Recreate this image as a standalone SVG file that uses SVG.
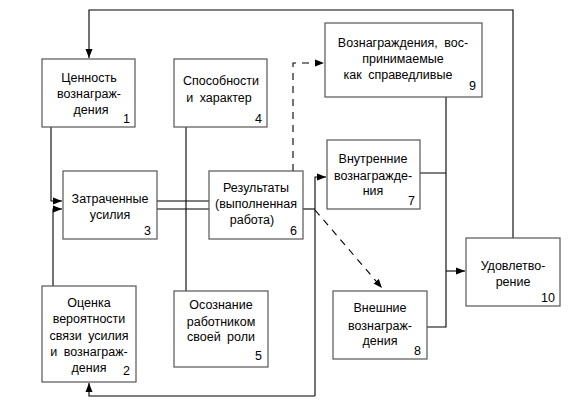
<svg xmlns="http://www.w3.org/2000/svg" width="573" height="408" viewBox="0 0 573 408">
<style>
.box{fill:#fff;stroke:#555;stroke-width:1.2}
.t{font-family:"Liberation Sans",Arial,sans-serif;font-size:12.5px;fill:#000;text-anchor:middle;word-spacing:3px}
.n{font-family:"Liberation Sans",Arial,sans-serif;font-size:12.5px;fill:#000;text-anchor:end}
.c{fill:none;stroke:#000;stroke-width:1.1}
.d{fill:none;stroke:#000;stroke-width:1.1;stroke-dasharray:7,6}
</style>
<defs>
<marker id="a" markerWidth="10" markerHeight="8" refX="9" refY="4" orient="auto" markerUnits="userSpaceOnUse">
<path d="M0,0.5 L9,4 L0,7.5 Z" fill="#000"/>
</marker>
</defs>
<rect width="573" height="408" fill="#fff"/>
<g id="connectors">
<path class="c" d="M513,238 V10 H89 V58" marker-end="url(#a)"/>
<path class="c" d="M51,127 V201 H62" marker-end="url(#a)"/>
<path class="c" d="M53,286 V209 H62" marker-end="url(#a)"/>
<path class="c" d="M186,127 V291"/>
<path class="c" d="M157,201 H209 M157,209 H209"/>
<path class="d" d="M293,171 V63 H324" marker-end="url(#a)"/>
<path class="c" d="M303,209 H315"/>
<path class="c" d="M315,396 V177 H326" marker-end="url(#a)"/>
<path class="c" d="M315,396 H89 V383" marker-end="url(#a)"/>
<path class="d" d="M315,210 L382,288" marker-end="url(#a)"/>
<path class="c" d="M420,173 H446 M446,97 V327 H427"/>
<path class="c" d="M446,271 H465" marker-end="url(#a)"/>
</g>
<g id="n1"><rect class="box" x="42" y="59" width="93" height="68"/>
<text class="t" x="89" y="82">Ценность</text><text class="t" x="89" y="98">вознаграж-</text><text class="t" x="91" y="114">дения</text><text class="n" x="130" y="123">1</text></g>
<g id="n4"><rect class="box" x="174" y="59" width="93" height="68"/>
<text class="t" x="221" y="85">Способности</text><text class="t" x="219" y="102">и характер</text><text class="n" x="262" y="123">4</text></g>
<g id="n9"><rect class="box" x="325" y="23" width="157" height="74"/>
<text class="t" x="403" y="47">Вознаграждения, вос-</text><text class="t" x="403" y="63">принимаемые</text><text class="t" x="398" y="79">как справедливые</text><text class="n" x="476" y="90">9</text></g>
<g id="n3"><rect class="box" x="63" y="171" width="94" height="68"/>
<text class="t" x="110" y="203">Затраченные</text><text class="t" x="110" y="219">усилия</text><text class="n" x="151" y="235">3</text></g>
<g id="n6"><rect class="box" x="209" y="171" width="94" height="68"/>
<text class="t" x="256" y="192">Результаты</text><text class="t" x="256" y="208">(выполненная</text><text class="t" x="252" y="224">работа)</text><text class="n" x="297" y="235">6</text></g>
<g id="n7"><rect class="box" x="327" y="140" width="93" height="69"/>
<text class="t" x="373" y="163">Внутренние</text><text class="t" x="373" y="180">вознагражде-</text><text class="t" x="373" y="195">ния</text><text class="n" x="415" y="205">7</text></g>
<g id="n10"><rect class="box" x="466" y="238" width="94" height="68"/>
<text class="t" x="513" y="270">Удовлетво-</text><text class="t" x="513" y="286">рение</text><text class="n" x="555" y="302">10</text></g>
<g id="n8"><rect class="box" x="333" y="291" width="94" height="68"/>
<text class="t" x="380" y="312">Внешние</text><text class="t" x="380" y="330">вознаграж-</text><text class="t" x="380" y="345">дения</text><text class="n" x="421" y="355">8</text></g>
<g id="n2"><rect class="box" x="42" y="286" width="94" height="96"/>
<text class="t" x="89" y="307">Оценка</text><text class="t" x="89" y="323">вероятности</text><text class="t" x="89" y="340">связи усилия</text><text class="t" x="89" y="356">и вознаграж-</text><text class="t" x="89" y="372">дения</text><text class="n" x="130" y="375">2</text></g>
<g id="n5"><rect class="box" x="174" y="291" width="94" height="76"/>
<text class="t" x="221" y="309">Осознание</text><text class="t" x="221" y="326">работником</text><text class="t" x="221" y="341">своей роли</text><text class="n" x="262" y="360">5</text></g>
</svg>
